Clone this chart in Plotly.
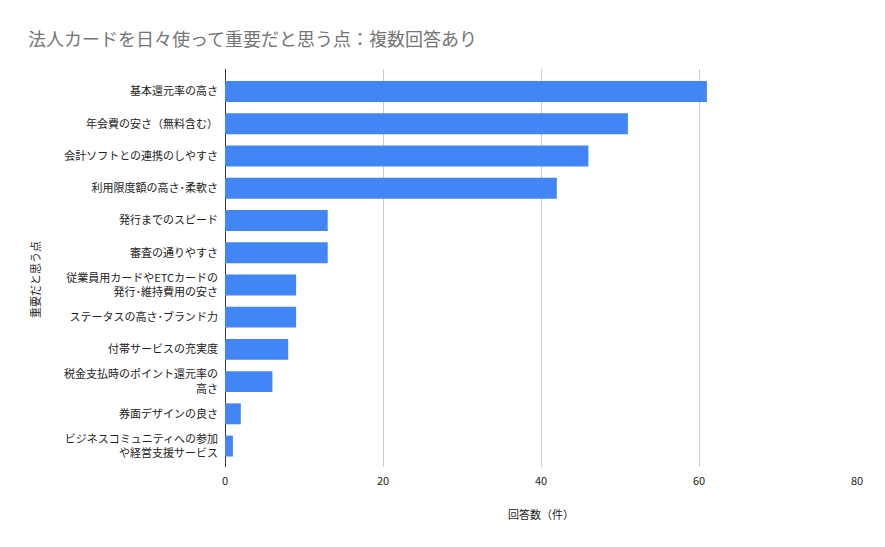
import plotly.graph_objects as go

categories = [
    "基本還元率の高さ",
    "年会費の安さ（無料含む）",
    "会計ソフトとの連携のしやすさ",
    "利用限度額の高さ･柔軟さ",
    "発行までのスピード",
    "審査の通りやすさ",
    "従業員用カードやETCカードの<br>発行･維持費用の安さ",
    "ステータスの高さ･ブランド力",
    "付帯サービスの充実度",
    "税金支払時のポイント還元率の<br>高さ",
    "券面デザインの良さ",
    "ビジネスコミュニティへの参加<br>や経営支援サービス",
]
values = [61, 51, 46, 42, 13, 13, 9, 9, 8, 6, 2, 1]
x_ticks = [0, 20, 40, 60, 80]

FONT = "Noto Sans CJK JP"

fig = go.Figure(go.Bar(
    x=values, y=categories, orientation="h",
    marker=dict(color="#4285F4", line=dict(width=0)),
    width=0.65,
))

fig.update_layout(
    width=885, height=547,
    margin=dict(l=225, r=28, t=69, b=80),
    paper_bgcolor="white", plot_bgcolor="white",
    font=dict(family=FONT, size=11, color="#222222"),
    title=dict(text="法人カードを日々使って重要だと思う点：複数回答あり",
               x=28/885, xanchor="left", y=1-40/547, yanchor="middle",
               font=dict(family=FONT, size=18, color="#757575")),
    showlegend=False,
)
fig.update_xaxes(
    range=[0, 80], tickvals=x_ticks, ticktext=[str(v) for v in x_ticks],
    showgrid=True, gridcolor="#cccccc", gridwidth=1,
    zeroline=True, zerolinecolor="#333333", zerolinewidth=1,
    showline=False, ticks="", ticklabelstandoff=6,
    tickfont=dict(family=FONT, size=11, color="#222222"),
    title=dict(text="回答数（件）", font=dict(family=FONT, size=11, color="#222222"), standoff=24),
)
fig.update_yaxes(
    type="category", categoryorder="array", categoryarray=categories,
    range=[11.65, -0.70],
    showgrid=False, ticks="", ticklabelstandoff=6,
    tickfont=dict(family=FONT, size=11, color="#222222"),
)
fig.add_annotation(text="重要だと思う点", textangle=-90,
                   x=(35 - 225) / (857 - 225), y=(467 - 280) / (467 - 69),
                   xref="paper", yref="paper", showarrow=False,
                   xanchor="center", yanchor="middle",
                   font=dict(family=FONT, size=11, color="#222222"))

fig.write_html("out.html")
